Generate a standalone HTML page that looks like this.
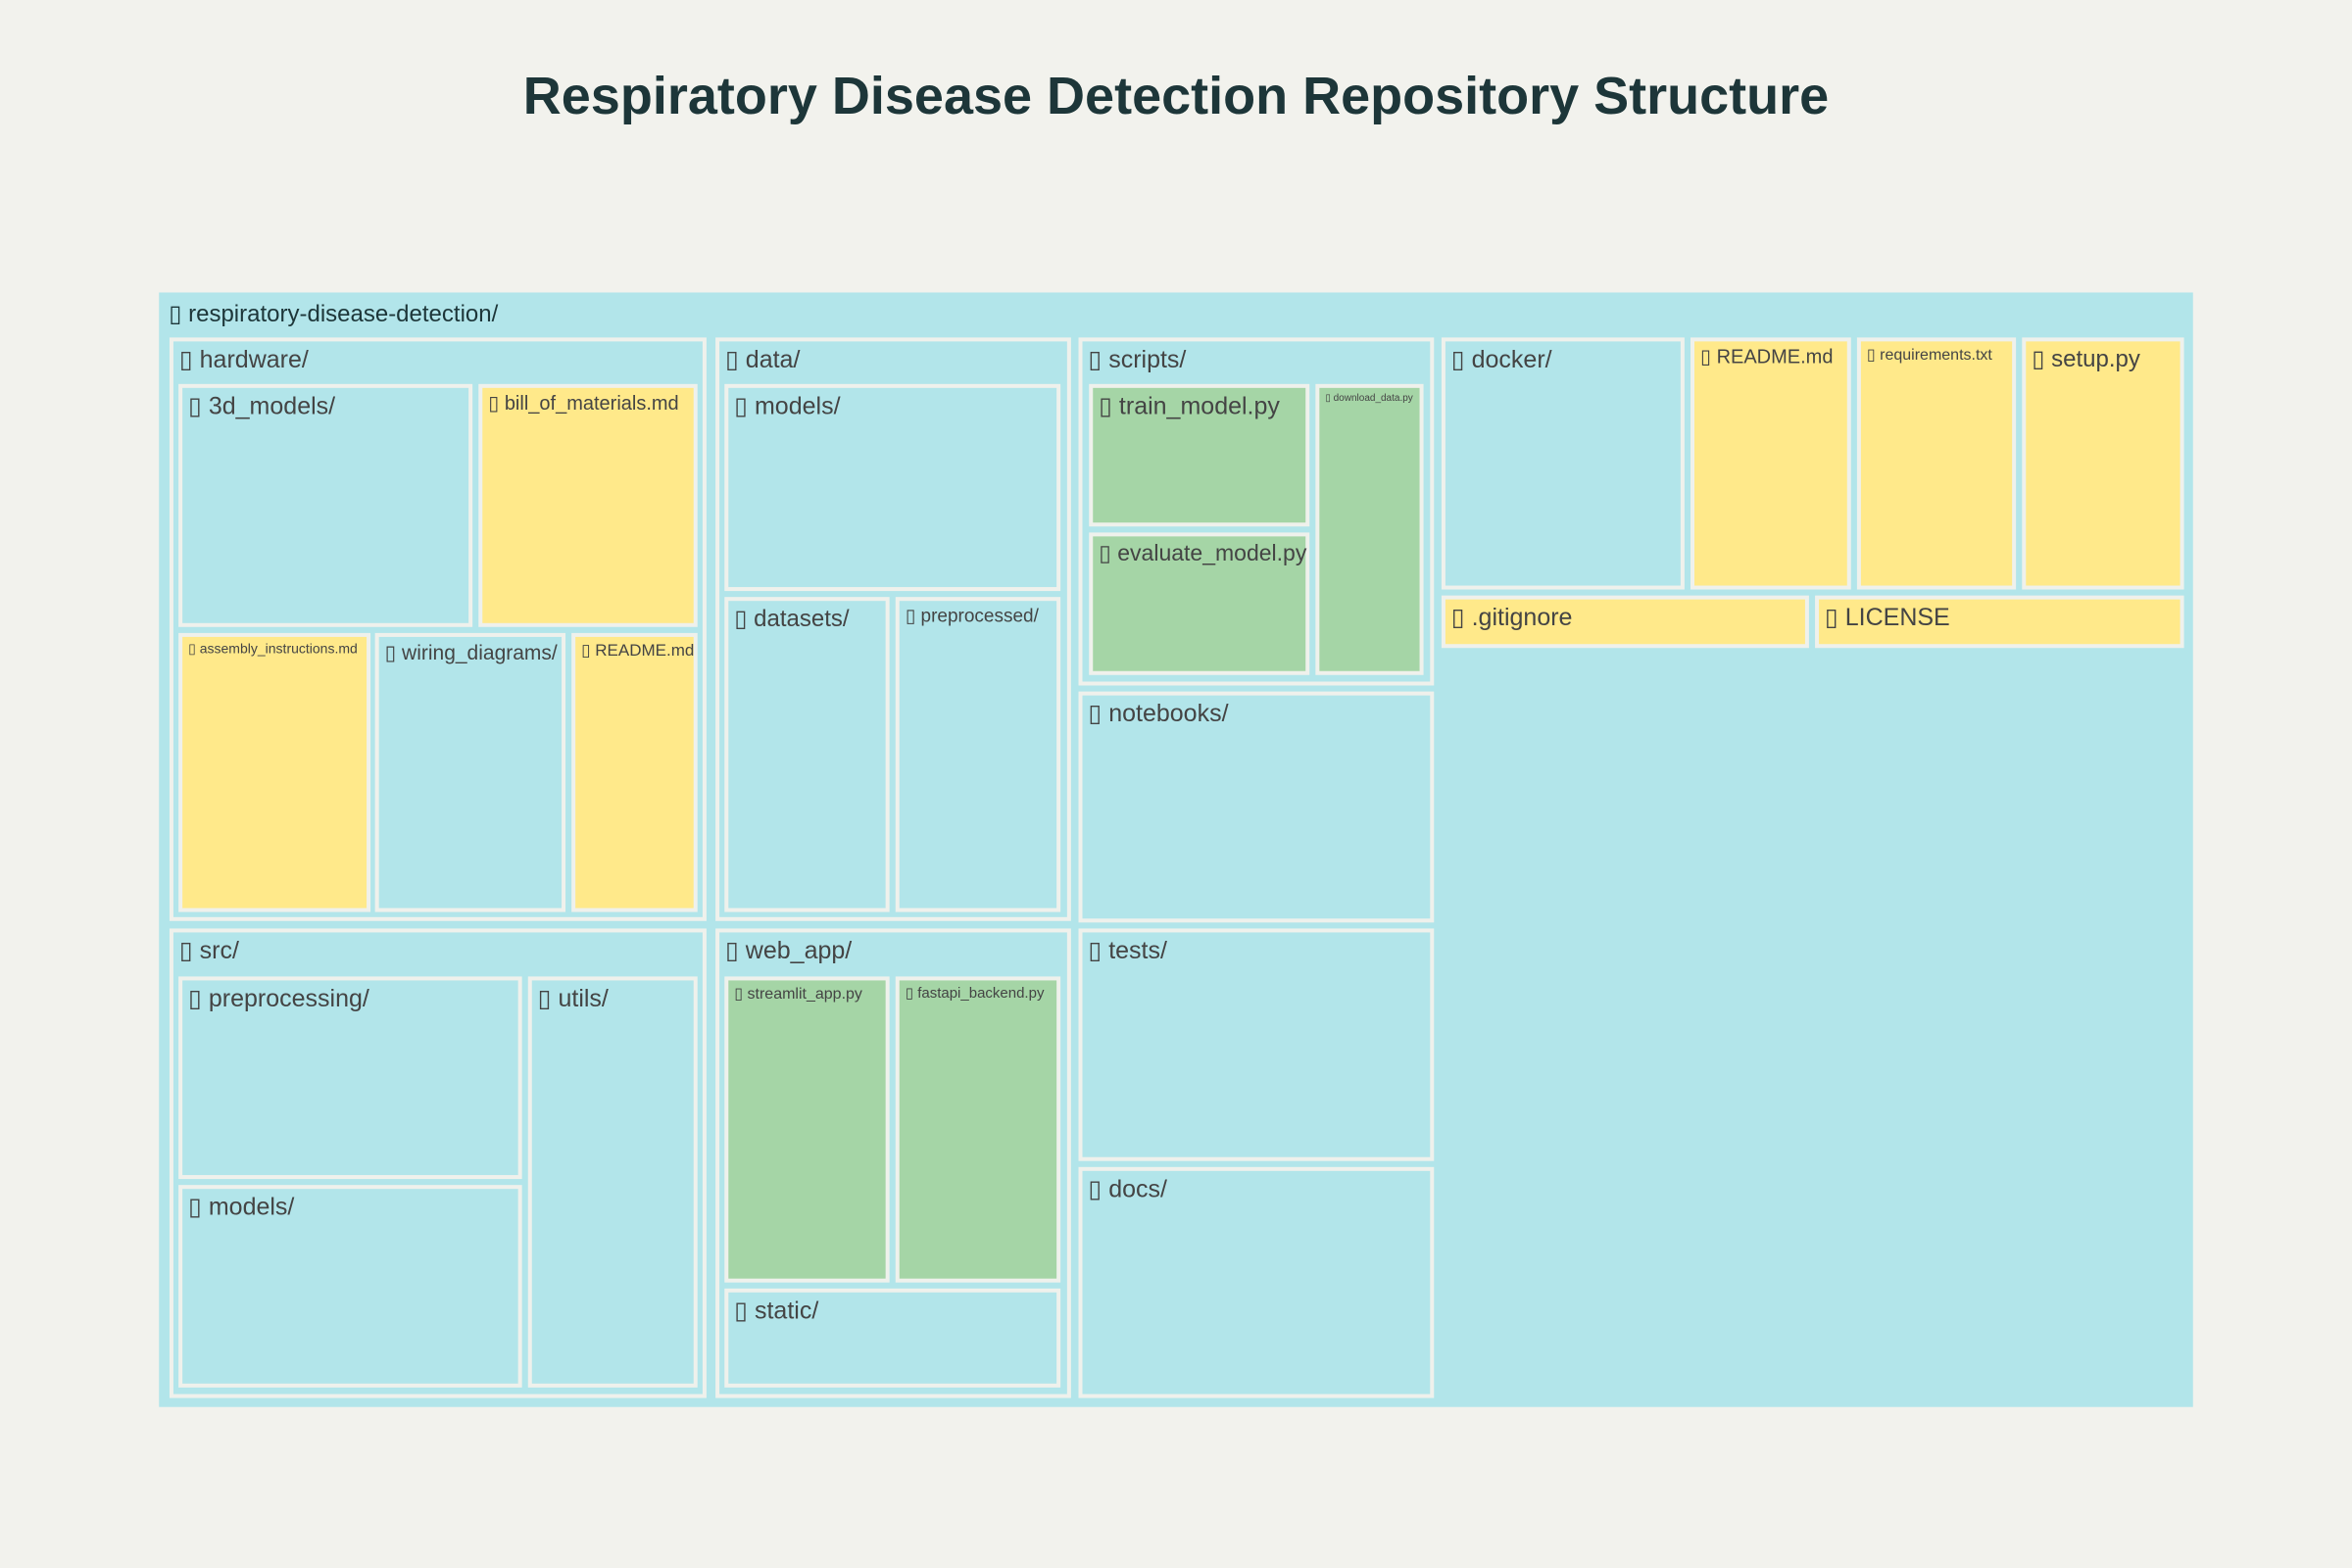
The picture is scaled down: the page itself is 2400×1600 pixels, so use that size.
<!DOCTYPE html>
<html><head><meta charset="utf-8"><title>Respiratory Disease Detection Repository Structure</title>
<style>
html,body{margin:0;padding:0;background:#f2f2ed;}
svg{display:block;font-family:"Liberation Sans","DejaVu Sans",sans-serif;}
</style></head>
<body>
<svg id="chart" width="2400" height="1600" viewBox="0 0 2400 1600" xmlns="http://www.w3.org/2000/svg">
<rect x="0" y="0" width="2400" height="1600" fill="#f2f2ed"/>
<text x="1200" y="116" text-anchor="middle" font-size="54" font-weight="bold" fill="#1d3639">Respiratory Disease Detection Repository Structure</text>
<g id="tiles"></g>
</svg>
<script>
const labels = ["respiratory-disease-detection/","hardware/","3d_models/","bill_of_materials.md","assembly_instructions.md","wiring_diagrams/","README.md",
"data/","models/","datasets/","preprocessed/","scripts/","train_model.py","evaluate_model.py","download_data.py",
"docker/","README.md","requirements.txt","setup.py",".gitignore","LICENSE","notebooks/",
"src/","preprocessing/","models/","utils/","web_app/","streamlit_app.py","fastapi_backend.py","static/","tests/","docs/"];
const kinds = ["dir","dir","dir","doc","doc","dir","doc","dir","dir","dir","dir","dir","code","code","code",
"dir","doc","doc","doc","doc","doc","dir","dir","dir","dir","dir","dir","code","code","dir","dir","dir"];
const x0s = [106,113,119,319,119,250,381,477,483,483,597,719,726,726,877,961,1127,1238,1348,961,1210,719,113,119,119,352,477,483,597,483,719,719];
const x1s = [1462,471,315,465,247,377,465,714,707,593,707,956,873,873,949,1123,1234,1344,1456,1206,1456,956,471,348,348,465,714,593,707,707,956,956];
const y0s = [195,225,256,256,422,422,422,225,256,398,398,225,256,355,256,225,225,225,225,397,397,461,619,651,790,651,619,651,651,859,619,778];
const y1s = [938,614,418,418,608,608,608,614,394,608,608,457,351,450,450,393,393,393,393,432,432,615,932,786,925,925,932,855,855,925,774,932];
const fontSizes = [24,25,25,20,14,21,17,25,25,24,19,25,25,23,10,25,20,16,24,25,25,25,25,25,25,25,25,16,15,25,25,25];

const S = 2400/1568;
const sx = v => v*S, sy = v => v*S;
const colors = {dir:"#b2e5ea", doc:"#ffe98a", code:"#a5d5a6"};
const NS = "http://www.w3.org/2000/svg";
const g = document.getElementById("tiles");
labels.forEach((lab,i)=>{
  const x = sx(x0s[i]), y = sy(y0s[i]), w = sx(x1s[i])-x, h = sy(y1s[i])-y;
  const grp = document.createElementNS(NS,"g");
  
  
  const r = document.createElementNS(NS,"rect");
  const bw = i===0 ? 0 : 4;
  r.setAttribute("x", x + bw/2); r.setAttribute("y", y + bw/2);
  r.setAttribute("width", w - bw); r.setAttribute("height", h - bw);
  r.setAttribute("fill", colors[kinds[i]]);
  if (bw) { r.setAttribute("stroke", "#eff1ec"); r.setAttribute("stroke-width", bw); }
  
  
  grp.appendChild(r);
  const t = document.createElementNS(NS,"text");
  const fs = fontSizes[i];
  t.setAttribute("x", x + 10);
  t.setAttribute("y", y + 8 + fs*0.9);
  t.setAttribute("font-size", fs);
  t.setAttribute("fill", i===0 ? "#1d3639" : "#444444");
  t.textContent = "\u25AF " + lab;
  
  
  grp.appendChild(t);
  g.appendChild(grp);
});
</script>
</body></html>
